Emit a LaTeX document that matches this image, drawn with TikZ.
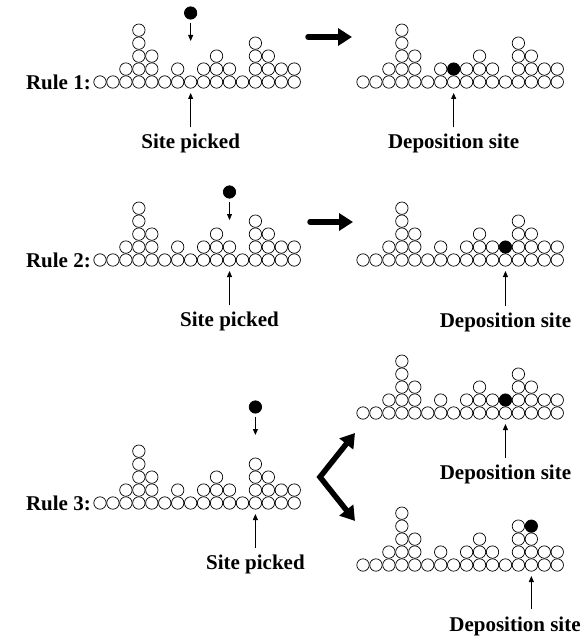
\documentclass[tikz,border=0pt]{standalone}
\usepackage{fontspec}
\setmainfont{Liberation Serif}
\usetikzlibrary{arrows.meta}
\tikzset{
  grain/.style={draw=black, line width=0.7pt, fill=white},
  ball/.style={circle, fill=black, draw=black, line width=0.7pt, minimum size=12.4pt, inner sep=0pt},
  pick/.style={draw=black, line width=0.8pt, -{Triangle[length=6pt,width=5pt]}},
  move/.style={draw=black, line width=5.5pt, line cap=round, -{Triangle[length=14pt,width=17pt]}},
  lab/.style={font=\bfseries\fontsize{21}{25}\selectfont, inner sep=0pt},
}
\def\s{12.95}
\def\r{6.2}
% one copy of the surface, lowest grain of column 0 at (#1,#2)
\newcommand{\surface}[2]{%
  \foreach \h [count=\i from 0] in {1,1,2,5,3,1,2,1,2,3,2,1,4,3,2,2}
    \foreach \j in {1,...,\h}
      \draw[grain] (#1+\i*\s, #2+\j*\s-\s) circle (\r pt);
}

\begin{document}
\begin{tikzpicture}[x=1pt, y=1pt]
  \useasboundingbox (0,0) rectangle (581,-644);

  % rule 1
  \surface{100}{-82}
  \surface{363}{-82}
  \node[lab, anchor=east] (r1) at (91,-82) {Rule 1:};
  \node[ball] (p1) at (100+7*\s,-13) {};
  \coordinate (p1t) at (100+7*\s,-41);
  \draw[pick] ([yshift=-3pt]p1.south) -- (p1t);
  \node[ball] (d1) at (363+7*\s,-82+\s) {};
  \node[lab] (sp1) at (100+7*\s,-143) {Site picked};
  \node[lab] (ds1) at (363+7*\s,-143) {Deposition site};
  \coordinate (st1) at (100+7*\s,-93);
  \coordinate (dt1) at (363+7*\s,-93);
  \draw[pick] ([yshift=6pt]sp1.north) -- (st1);
  \draw[pick] ([yshift=6pt]ds1.north) -- (dt1);
  \coordinate (a1) at (308,-37);
  \coordinate (b1) at (352,-37);
  \draw[move] (a1) -- (b1);

  % rule 2
  \surface{100}{-260}
  \surface{363}{-260}
  \node[lab, anchor=east] (r2) at (91,-260) {Rule 2:};
  \node[ball] (p2) at (100+10*\s,-192) {};
  \coordinate (p2t) at (100+10*\s,-220);
  \draw[pick] ([yshift=-3pt]p2.south) -- (p2t);
  \node[ball] (d2) at (363+11*\s,-260+\s) {};
  \node[lab] (sp2) at (100+10*\s,-321) {Site picked};
  \node[lab] (ds2) at (363+11*\s,-322) {Deposition site};
  \coordinate (st2) at (100+10*\s,-271);
  \coordinate (dt2) at (363+11*\s,-271);
  \draw[pick] ([yshift=6pt]sp2.north) -- (st2);
  \draw[pick] ([yshift=6pt]ds2.north) -- (dt2);
  \coordinate (a2) at (310,-222);
  \coordinate (b2) at (353,-222);
  \draw[move] (a2) -- (b2);

  % rule 3
  \surface{100}{-503}
  \surface{363}{-413}
  \surface{363}{-565}
  \node[lab, anchor=east] (r3) at (91,-503) {Rule 3:};
  \node[ball] (p3) at (100+12*\s,-407) {};
  \coordinate (p3t) at (100+12*\s,-435);
  \draw[pick] ([yshift=-3pt]p3.south) -- (p3t);
  \node[ball] (d3a) at (363+11*\s,-413+\s) {};
  \node[ball] (d3b) at (363+13*\s,-565+3*\s) {};
  \node[lab] (sp3) at (100+12*\s,-564) {Site picked};
  \node[lab] (ds3a) at (363+11*\s,-474) {Deposition site};
  \node[lab] (ds3b) at (515,-626) {Deposition site};
  \coordinate (st3) at (100+12*\s,-514);
  \coordinate (dt3a) at (363+11*\s,-424);
  \coordinate (dt3b) at (363+13*\s,-576);
  \draw[pick] ([yshift=6pt]sp3.north) -- (st3);
  \draw[pick] ([yshift=6pt]ds3a.north) -- (dt3a);
  \draw[pick] (363+13*\s,-609) -- (dt3b);
  \coordinate (v) at (320,-477);
  \coordinate (va) at (355,-433);
  \coordinate (vb) at (355,-521);
  \draw[move, line cap=butt, line join=miter, {Triangle[length=14pt,width=17pt]}-{Triangle[length=14pt,width=17pt]}] (va) -- (v) -- (vb);
\end{tikzpicture}
\end{document}
